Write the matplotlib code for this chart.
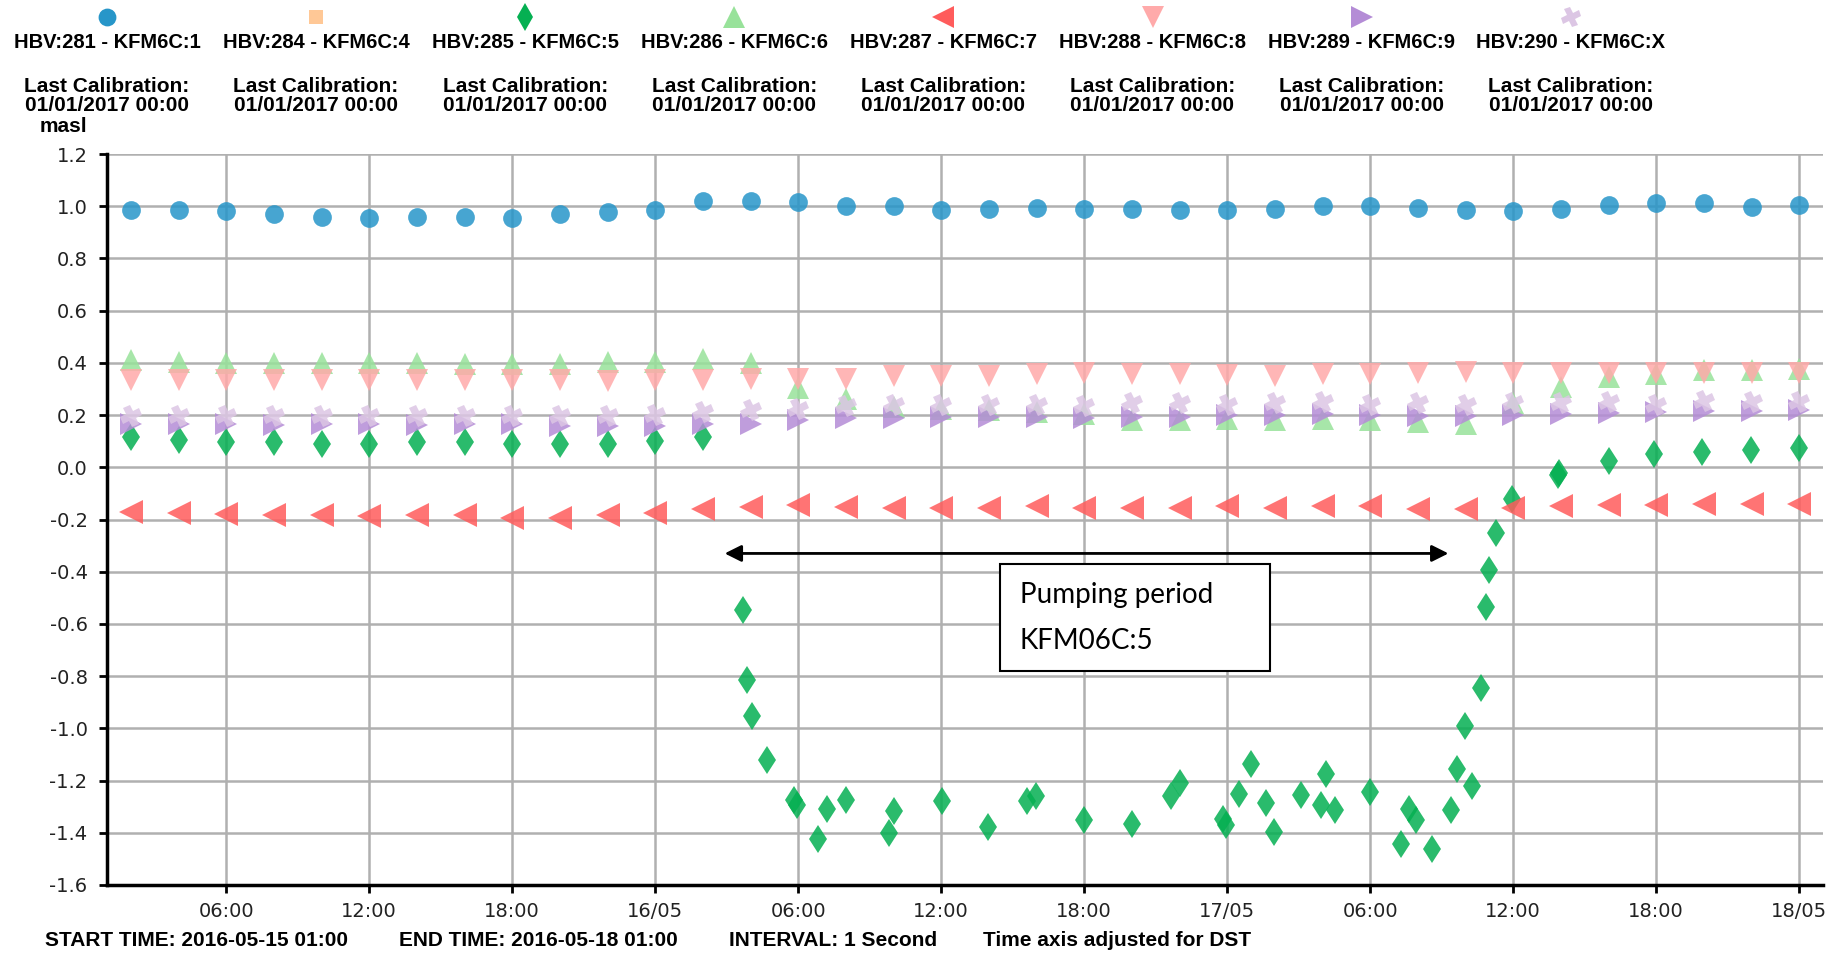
import numpy as np
import matplotlib
matplotlib.use("Agg")
import matplotlib.pyplot as plt
import matplotlib.dates as mdates
from matplotlib.lines import Line2D
from matplotlib.patches import Rectangle
from matplotlib.markers import MarkerStyle
from matplotlib.transforms import Affine2D
from datetime import datetime, timedelta

plt.rcParams['font.family'] = ['Liberation Sans', 'DejaVu Sans']

start = datetime(2016, 5, 15, 1, 0)
end = datetime(2016, 5, 18, 1, 0)

# hours after start for the regular 2-hourly readings
hours = np.arange(1, 72, 2)

kfm1 = [0.985, 0.985, 0.982, 0.972, 0.959, 0.953, 0.959, 0.959, 0.956, 0.972,
        0.978, 0.987, 1.020, 1.020, 1.017, 1.000, 1.000, 0.985, 0.991, 0.995,
        0.991, 0.988, 0.987, 0.987, 0.990, 1.001, 1.000, 0.992, 0.985, 0.981,
        0.988, 1.006, 1.014, 1.013, 0.997, 1.004]
kfm4 = []
kfm6 = [0.410, 0.405, 0.400, 0.400, 0.400, 0.400, 0.400, 0.395, 0.395, 0.397,
        0.403, 0.403, 0.415, 0.398, 0.303, 0.260, 0.230, 0.225, 0.218, 0.212,
        0.206, 0.180, 0.180, 0.186, 0.183, 0.186, 0.180, 0.174, 0.167, 0.245,
        0.308, 0.346, 0.356, 0.372, 0.372, 0.378]
kfm7 = [-0.171, -0.174, -0.180, -0.181, -0.183, -0.185, -0.183, -0.182, -0.193, -0.193,
        -0.181, -0.177, -0.158, -0.152, -0.146, -0.152, -0.155, -0.155, -0.155, -0.149,
        -0.155, -0.155, -0.155, -0.149, -0.155, -0.149, -0.149, -0.158, -0.158, -0.155,
        -0.149, -0.146, -0.146, -0.139, -0.142, -0.139]
kfm8 = [0.335, 0.335, 0.333, 0.335, 0.333, 0.333, 0.333, 0.335, 0.333, 0.333,
        0.330, 0.333, 0.336, 0.340, 0.340, 0.340, 0.351, 0.350, 0.348, 0.359,
        0.360, 0.358, 0.358, 0.354, 0.350, 0.356, 0.357, 0.360, 0.365, 0.362,
        0.360, 0.362, 0.362, 0.362, 0.362, 0.362]
kfm9 = [0.167, 0.165, 0.165, 0.163, 0.165, 0.165, 0.163, 0.165, 0.165, 0.160,
        0.160, 0.160, 0.167, 0.167, 0.180, 0.187, 0.187, 0.193, 0.193, 0.193,
        0.190, 0.193, 0.193, 0.199, 0.199, 0.206, 0.199, 0.195, 0.195, 0.201,
        0.206, 0.208, 0.212, 0.215, 0.215, 0.221]
kfmX = [0.195, 0.195, 0.195, 0.195, 0.195, 0.195, 0.195, 0.195, 0.195, 0.195,
        0.195, 0.200, 0.212, 0.218, 0.225, 0.235, 0.240, 0.240, 0.240, 0.240,
        0.235, 0.245, 0.245, 0.238, 0.245, 0.250, 0.238, 0.245, 0.240, 0.245,
        0.245, 0.250, 0.240, 0.255, 0.250, 0.250]

# KFM6C:5 - irregular readings through the pumping period
kfm5_hours = [1, 3, 5, 7, 9, 11, 13, 15, 17, 19, 21, 23, 25,
              26.70, 26.87, 27.05, 27.68, 28.84, 28.97, 29.85, 30.22, 30.99, 32.82,
              33.02, 35.03, 36.97, 38.61, 38.97, 41.00, 43.00, 44.66, 45.01, 46.83,
              46.97, 47.50, 48.02, 48.62, 48.95, 50.11, 50.95, 51.16, 51.51, 52.98,
              54.30, 54.65, 54.93, 55.60, 56.40, 56.63, 56.96, 57.28, 57.66, 57.84,
              57.98, 58.27, 58.94, 60.88, 60.92, 63.0, 64.92, 66.92, 68.96, 70.98]
kfm5 = [0.116, 0.103, 0.097, 0.097, 0.091, 0.091, 0.097, 0.097, 0.091, 0.088, 0.090, 0.100, 0.116,
        -0.548, -0.816, -0.954, -1.123, -1.273, -1.295, -1.423, -1.308, -1.273, -1.401,
        -1.317, -1.278, -1.378, -1.278, -1.260, -1.352, -1.365, -1.260, -1.210, -1.346,
        -1.372, -1.250, -1.135, -1.286, -1.397, -1.257, -1.295, -1.174, -1.314, -1.244,
        -1.442, -1.308, -1.352, -1.461, -1.314, -1.154, -0.992, -1.222, -0.844, -0.535,
        -0.395, -0.250, -0.120, -0.030, -0.020, 0.025, 0.050, 0.058, 0.065, 0.072]

labels = ["HBV:281 - KFM6C:1", "HBV:284 - KFM6C:4", "HBV:285 - KFM6C:5", "HBV:286 - KFM6C:6",
          "HBV:287 - KFM6C:7", "HBV:288 - KFM6C:8", "HBV:289 - KFM6C:9", "HBV:290 - KFM6C:X"]
calibration = "Last Calibration:\n01/01/2017 00:00"

yticks = np.round(np.arange(-1.6, 1.21, 0.2), 1)

cross = MarkerStyle('P', transform=Affine2D().rotate_deg(25))
styles = [
    dict(marker='o', color='#2796c9', ms=13.5),
    dict(marker='s', color='#ffc896', ms=11),
    dict(marker='d', color='#05b052', ms=14.5),
    dict(marker='^', color='#98e29a', ms=16),
    dict(marker='<', color='#ff5c5c', ms=17),
    dict(marker='v', color='#ffaaaa', ms=16),
    dict(marker='>', color='#b48cd6', ms=16),
    dict(marker=cross, color='#dcc6e4', ms=15),
]


def to_dates(hrs):
    return [start + timedelta(hours=float(h)) for h in hrs]


series = [(hours, kfm1), (hours[:0], kfm4), (kfm5_hours, kfm5), (hours, kfm6),
          (hours, kfm7), (hours, kfm8), (hours, kfm9), (hours, kfmX)]

W, H = 1840, 957
fig = plt.figure(figsize=(W / 100, H / 100), dpi=100)
ax = fig.add_axes([107 / W, 1 - 885 / H, (1823 - 107) / W, (885 - 154) / H])

for (hx, vals), st in zip(series, styles):
    if len(vals) == 0:
        continue
    ax.plot(to_dates(hx), vals, linestyle='none', marker=st['marker'], ms=st['ms'],
            color=st['color'], markeredgewidth=0, alpha=0.85, zorder=3)

ax.set_xlim(start, end)
ax.set_ylim(-1.6, 1.2)
ax.set_yticks(yticks)
ax.set_yticklabels([f"{v + 0.0:.1f}".replace("-0.0", "0.0") for v in yticks])

ax.xaxis.set_major_locator(mdates.HourLocator(byhour=[0, 6, 12, 18]))
ax.xaxis.set_major_formatter(plt.FuncFormatter(
    lambda x, pos: mdates.num2date(x).strftime('%d/%m' if mdates.num2date(x).hour == 0 else '%H:%M')))

for s in ['top', 'right']:
    ax.spines[s].set_visible(False)
for s in ['left', 'bottom']:
    ax.spines[s].set_linewidth(2.5)
    ax.spines[s].set_color('black')
    ax.spines[s].set_zorder(4)
ax.grid(True, color='#b0b0b0', linewidth=1.8, zorder=0)
ax.set_axisbelow(True)
ax.tick_params(axis='both', direction='out', length=6, width=2, colors='black', labelcolor='#222222')
ax.tick_params(axis='y', pad=8)
ax.tick_params(axis='x', pad=6)
for lab in ax.get_xticklabels() + ax.get_yticklabels():
    lab.set_fontfamily('DejaVu Sans')
    lab.set_fontsize(14)

# pumping period annotation
arrow_y = -0.33
ax.annotate('', xy=(start + timedelta(hours=25.8), arrow_y),
            xytext=(start + timedelta(hours=56.4), arrow_y),
            arrowprops=dict(arrowstyle='<|-|>', color='black', lw=2, mutation_scale=25), zorder=5)
bx0 = mdates.date2num(start + timedelta(hours=37.46))
bx1 = mdates.date2num(start + timedelta(hours=48.78))
ax.add_patch(Rectangle((bx0, -0.782), bx1 - bx0, 0.41, facecolor='white',
                       edgecolor='black', linewidth=1.5, zorder=5))
tx = start + timedelta(hours=38.3)
ax.text(tx, -0.49, "Pumping period", fontsize=20, family=['Lato', 'DejaVu Sans'], va='center', zorder=6)
ax.text(tx, -0.665, "KFM06C:5", fontsize=20, family=['Lato', 'DejaVu Sans'], va='center', zorder=6)

# legend across the top
for i, (lab, st) in enumerate(zip(labels, styles)):
    cx = (107 + i * 209.1) / W
    fig.add_artist(Line2D([cx], [1 - 17 / H], marker=st['marker'], ms=st['ms'] * 0.95,
                          color=st['color'], markeredgewidth=0, linestyle='none',
                          transform=fig.transFigure))
    fig.text(cx, 1 - 42 / H, lab, ha='center', va='center', fontsize=14.5, fontweight='bold')
    fig.text(cx, 1 - 96 / H, calibration, ha='center', va='center', fontsize=15,
             fontweight='bold', linespacing=1.0)

fig.text(63 / W, 1 - 127 / H, "masl", ha='center', va='center', fontsize=15, fontweight='bold')

footer = ["START TIME: 2016-05-15 01:00", "END TIME: 2016-05-18 01:00",
          "INTERVAL: 1 Second", "Time axis adjusted for DST"]
footer_x = [45, 399, 729, 983]
for t, x in zip(footer, footer_x):
    fig.text(x / W, 1 - 940 / H, t, ha='left', va='center', fontsize=15, fontweight='bold')

fig.savefig("out.png", dpi=100)
